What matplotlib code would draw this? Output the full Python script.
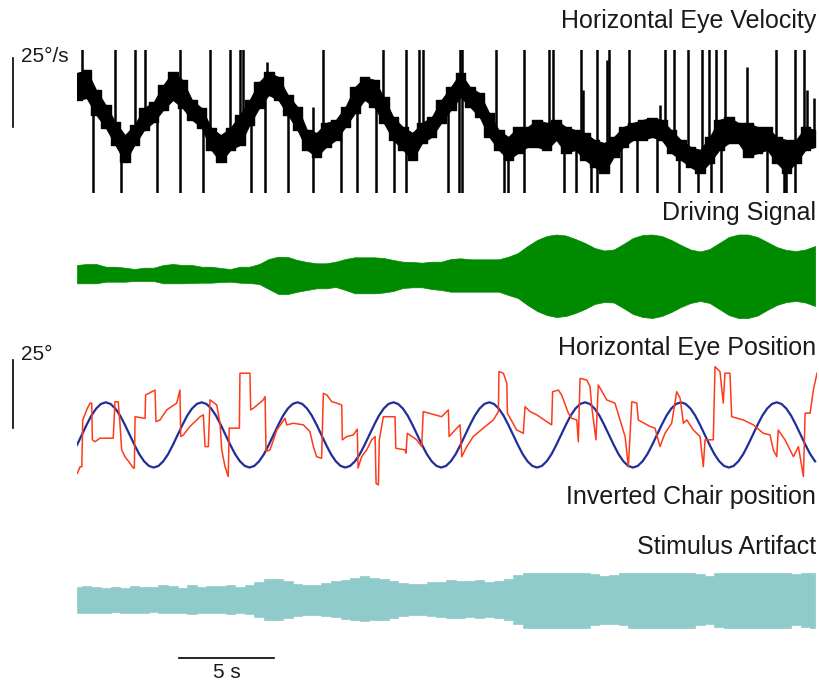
import numpy as np
import matplotlib
matplotlib.use("Agg")
import matplotlib.pyplot as plt

plt.rcParams['font.family'] = ['Liberation Sans', 'DejaVu Sans']

# ---------------------------------------------------------------------------
# Recorded traces (time in s)
# Envelopes sampled every 0.5 s
ENV_DT = 0.5

# Horizontal eye velocity, slow-phase band (deg/s): upper / lower edge
vel_upper = [17.4, 18.5, 11.2, 5.8, -0.4, -5.1, -1.4, 4.7, 6.9, 13.0,
             17.8, 14.9, 7.6, 4.7, -2.5, -5.1, -2.5, 2.2, 7.6, 14.1,
             17.8, 15.9, 9.4, 5.1, -3.3, -4.3, -0.7, 0.4, 5.1, 12.3,
             15.9, 14.9, 8.7, 1.4, -2.2, -4.3, -0.7, 1.4, 7.6, 12.3,
             17.4, 12.3, 10.1, 2.9, -3.3, -5.8, -2.2, -2.2, 0.4, -0.7,
             0.4, -2.2, -3.3, -4.3, -6.9, -8.0, -5.8, -2.2, -0.7, 0.4,
             1.1, 0.4, -3.3, -6.9, -9.4, -10.5, -5.8, 0.4, 1.4, -0.7,
             -0.7, -2.2, -2.2, -5.8, -6.9, -6.9, -2.2, -3.3]
vel_lower = [7.6, 8.3, 2.2, -2.5, -8.7, -14.9, -8.7, -3.3, -0.4, 4.0,
             7.6, 4.7, 0.4, -2.5, -10.5, -14.9, -10.5, -8.7, -1.4, 4.7,
             9.4, 7.6, 2.2, -3.3, -10.5, -13.0, -9.4, -6.9, -2.2, 2.9,
             7.6, 5.1, -0.7, -6.9, -10.5, -14.1, -8.0, -5.8, -0.7, 4.0,
             8.7, 5.1, 1.4, -5.8, -10.5, -14.1, -11.6, -9.4, -9.4, -10.5,
             -6.9, -11.6, -10.5, -14.1, -16.7, -18.8, -13.0, -9.4, -6.9, -6.9,
             -5.8, -6.9, -11.6, -14.1, -16.7, -18.8, -15.2, -10.5, -8.0, -8.0,
             -13.0, -11.6, -10.5, -15.2, -18.8, -15.2, -10.5, -9.4]

# Saccades: onset time (s) and peak velocity (deg/s); +/-40 saturates the display
saccade_t = [0.24, 1.98, 3.02, 3.54, 5.36, 6.93, 7.97, 8.49, 8.66, 12.83,
             15.95, 17.17, 17.86, 18.07, 20.0, 20.09, 21.86, 23.33, 24.64, 24.81,
             26.29, 27.15, 27.76, 28.8, 30.68, 31.15, 31.89, 32.62, 32.97, 33.32,
             33.8, 36.47, 37.45, 37.92,
             9.9, 12.29, 26.37, 27.67, 30.4, 34.96, 38.09, 38.44,
             0.85, 2.28, 4.15, 5.36, 6.58, 9.1, 9.83, 11.0, 12.31, 13.79,
             14.6, 15.61, 16.56, 17.17, 19.34, 19.95, 20.09, 22.29, 22.46, 23.33,
             25.42, 26.03, 26.81, 27.15, 28.37, 29.23, 30.28, 31.41, 32.41, 33.06,
             33.58, 36.0, 36.88, 36.96, 37.45]
saccade_peak = [40] * 34 + [21.4, 5.1, 11.2, 22.1, 5.8, 19.6, 11.2, 8.3] + [-40] * 35

# Driving signal envelope (arb. units)
drive_upper = [1.0, 1.1, 1.1, 0.83, 0.83, 0.73, 0.6, 0.73, 0.73, 1.0,
               1.1, 1.0, 1.0, 0.83, 0.83, 0.7, 0.6, 0.83, 0.83, 1.1,
               1.6, 1.83, 1.8, 1.5, 1.3, 1.17, 1.17, 1.33, 1.6, 1.77,
               1.77, 1.77, 1.7, 1.5, 1.33, 1.3, 1.23, 1.33, 1.33, 1.6,
               1.67, 1.57, 1.57, 1.57, 1.57, 1.83, 2.2, 2.9, 3.5, 3.9,
               4.05, 3.95, 3.6, 3.2, 2.7, 2.45, 2.55, 3.1, 3.7, 4.0,
               4.05, 3.9, 3.5, 3.0, 2.55, 2.35, 2.6, 3.2, 3.8, 4.05,
               4.05, 3.8, 3.3, 2.8, 2.5, 2.4, 2.55, 2.9]
drive_lower = [-0.83, -0.83, -0.83, -0.67, -0.67, -0.67, -0.6, -0.6, -0.6, -0.83,
               -0.83, -0.83, -0.8, -0.77, -0.77, -0.7, -0.67, -0.77, -0.8, -0.9,
               -1.4, -1.9, -1.9, -1.67, -1.5, -1.33, -1.33, -1.2, -1.5, -1.83,
               -1.83, -1.83, -1.75, -1.6, -1.3, -1.23, -1.23, -1.4, -1.5, -1.67,
               -1.67, -1.67, -1.67, -1.67, -1.67, -2.0, -2.3, -3.0, -3.6, -4.0,
               -4.2, -4.1, -3.8, -3.4, -2.9, -2.7, -2.75, -3.3, -3.9, -4.2,
               -4.3, -4.1, -3.7, -3.2, -2.8, -2.6, -2.8, -3.4, -4.0, -4.3,
               -4.3, -4.05, -3.5, -3.0, -2.7, -2.6, -2.75, -3.1]

# Stimulus artifact envelope (arb. units)
art_upper = [1.3, 1.4, 1.3, 1.2, 1.3, 1.2, 1.4, 1.3, 1.3, 1.5,
             1.4, 1.2, 1.5, 1.3, 1.4, 1.4, 1.5, 1.3, 1.5, 1.8,
             2.1, 2.1, 1.9, 1.6, 1.5, 1.5, 1.7, 1.9, 2.0, 2.2,
             2.4, 2.2, 2.1, 1.9, 1.7, 1.6, 1.6, 1.8, 1.8, 2.0,
             1.9, 1.9, 2.0, 1.8, 1.9, 2.1, 2.5, 2.7, 2.7, 2.7,
             2.7, 2.7, 2.7, 2.7, 2.6, 2.4, 2.5, 2.7, 2.7, 2.7,
             2.7, 2.7, 2.7, 2.7, 2.7, 2.6, 2.4, 2.7, 2.7, 2.7,
             2.7, 2.7, 2.7, 2.7, 2.7, 2.6, 2.7, 2.7]
art_lower = [-1.3, -1.3, -1.3, -1.3, -1.2, -1.3, -1.3, -1.3, -1.2, -1.3,
             -1.3, -1.3, -1.4, -1.3, -1.3, -1.3, -1.4, -1.3, -1.4, -1.7,
             -2.0, -2.0, -1.8, -1.6, -1.5, -1.5, -1.6, -1.7, -1.9, -2.0,
             -2.1, -2.0, -2.0, -1.8, -1.6, -1.5, -1.5, -1.6, -1.7, -1.8,
             -1.8, -1.7, -1.8, -1.7, -1.8, -2.0, -2.4, -2.8, -2.8, -2.8,
             -2.8, -2.8, -2.8, -2.8, -2.5, -2.4, -2.4, -2.5, -2.8, -2.8,
             -2.8, -2.8, -2.8, -2.8, -2.8, -2.5, -2.4, -2.7, -2.8, -2.8,
             -2.8, -2.8, -2.8, -2.8, -2.8, -2.5, -2.7, -2.8]

# Horizontal eye position (deg)
eye_t = [0.02, 0.16, 0.25, 0.30, 0.54, 0.68, 0.77, 0.80, 0.94, 1.20,
         1.89, 1.98, 2.15, 2.24, 2.33, 2.50, 2.76, 2.94, 2.99, 3.03,
         3.55, 3.58, 4.07, 4.12, 4.33, 4.68, 5.20, 5.37, 5.41, 5.55,
         5.89, 6.42, 6.59, 6.68, 6.85, 6.94, 7.29, 7.46, 7.55, 7.72,
         7.89, 7.94, 8.47, 8.50, 9.02, 9.06, 9.20, 9.72, 9.81, 9.86,
         10.07, 10.42, 10.85, 10.94, 11.28, 11.81, 12.15, 12.33, 12.50, 12.76,
         12.85, 13.03, 13.29, 13.55, 13.81, 13.84, 14.07, 14.41, 14.62, 14.66,
         14.85, 15.11, 15.37, 15.55, 15.60, 15.72, 15.77, 15.98, 16.59, 16.63,
         17.11, 17.16, 17.23, 17.72, 17.98, 18.06, 19.02, 19.37, 19.41, 19.72,
         19.98, 20.07, 20.33, 20.67, 21.19, 21.72, 21.98, 22.01, 22.24, 22.42,
         22.45, 22.94, 23.28, 23.37, 23.63, 23.98, 24.50, 24.76, 24.81, 25.11,
         25.28, 25.63, 25.81, 26.07, 26.15, 26.24, 26.59, 26.76, 26.85, 27.07,
         27.19, 27.63, 28.06, 28.33, 28.59, 28.76, 28.94, 29.20, 29.28, 29.89,
         30.15, 30.41, 30.67, 31.02, 31.28, 31.46, 31.63, 31.81, 32.15, 32.50,
         32.67, 32.76, 33.19, 33.28, 33.54, 33.71, 33.80, 34.06, 34.15, 34.76,
         35.28, 35.80, 36.15, 36.32, 36.50, 36.58, 36.93, 37.37, 37.63, 37.89,
         37.98, 38.24, 38.41, 38.60]
eye_deg = [-14.1, -11.7, -11.7, 5.5, 9.8, 11.7, 11.7, -1.8, -2.5, -1.2,
           -1.2, 12.2, 12.2, 4.3, -5.5, -8.0, -10.4, -12.2, -12.2, 6.7,
           6.1, 14.7, 16.5, 4.9, 5.5, 9.2, 11.7, 16.5, -0.6, 0.0,
           3.1, 6.7, 7.4, -4.3, -4.3, 12.9, 11.0, 4.3, -5.5, -11.7,
           -15.3, 2.5, 2.5, 22.7, 22.7, 9.2, 9.8, 12.9, 14.1, -6.1,
           -5.5, 1.8, 6.1, 3.7, 4.3, 3.7, 1.2, -4.3, -8.0, -8.6,
           15.3, 14.7, 12.2, 11.7, 11.0, -1.8, -0.6, 0.0, 2.1, -12.2,
           -8.0, -5.5, -1.8, -0.6, -17.8, -18.4, -1.8, 6.7, 6.7, -4.9,
           -5.5, -6.7, 0.6, -1.8, -4.3, 8.6, 6.7, 9.2, -0.6, 1.8,
           3.7, -8.0, -4.3, -0.6, 2.5, 5.5, 8.6, 23.3, 22.7, 19.0,
           8.0, 1.8, 0.6, 10.4, 8.6, 7.4, 4.9, 3.7, 15.9, 16.5,
           14.7, 8.0, 6.1, 5.5, -2.5, 20.8, 20.2, 17.8, 10.4, -1.8,
           18.4, 12.9, 11.7, 5.5, -0.6, -11.7, 12.2, 11.7, 5.5, 3.1,
           2.5, -4.3, 0.6, 4.3, 15.9, 13.5, 4.3, 5.5, 1.8, -0.6,
           -11.7, -1.8, -1.8, 25.1, 23.3, 11.7, 22.7, 22.7, 6.7, 5.5,
           3.7, 0.6, 0.0, -5.5, -8.0, 1.8, -1.8, -8.0, -4.3, -15.3,
           8.0, 8.0, 16.5, 22.7]

# Inverted chair position (deg), sampled every 0.25 s
CHAIR_DT = 0.25
chair_deg = [
    -3.7, 0.0, 3.7, 7.1, 9.7, 11.4, 12.0, 11.4, 9.7, 7.1, 3.7, 0.0, -3.7, -7.1, -9.7, -11.4, -12.0, -11.4, -9.7, -7.1,
    -3.7, 0.0, 3.7, 7.1, 9.7, 11.4, 12.0, 11.4, 9.7, 7.1, 3.7, 0.0, -3.7, -7.1, -9.7, -11.4, -12.0, -11.4, -9.7, -7.1,
    -3.7, 0.0, 3.7, 7.1, 9.7, 11.4, 12.0, 11.4, 9.7, 7.1, 3.7, 0.0, -3.7, -7.1, -9.7, -11.4, -12.0, -11.4, -9.7, -7.1,
    -3.7, 0.0, 3.7, 7.1, 9.7, 11.4, 12.0, 11.4, 9.7, 7.1, 3.7, 0.0, -3.7, -7.1, -9.7, -11.4, -12.0, -11.4, -9.7, -7.1,
    -3.7, 0.0, 3.7, 7.1, 9.7, 11.4, 12.0, 11.4, 9.7, 7.1, 3.7, 0.0, -3.7, -7.1, -9.7, -11.4, -12.0, -11.4, -9.7, -7.1,
    -3.7, 0.0, 3.7, 7.1, 9.7, 11.4, 12.0, 11.4, 9.7, 7.1, 3.7, 0.0, -3.7, -7.1, -9.7, -11.4, -12.0, -11.4, -9.7, -7.1,
    -3.7, 0.0, 3.7, 7.1, 9.7, 11.4, 12.0, 11.4, 9.7, 7.1, 3.7, 0.0, -3.7, -7.1, -9.7, -11.4, -12.0, -11.4, -9.7, -7.1,
    -3.7, 0.0, 3.7, 7.1, 9.7, 11.4, 12.0, 11.4, 9.7, 7.1, 3.7, 0.0, -3.7, -7.1, -9.7,
]

# Calibration bars
VEL_BAR = (-2.2, 22.8)     # 25 deg/s
POS_BAR = (2.5, 27.5)      # 25 deg
TIME_BAR = (5.3, 10.3)     # 5 s

# ---------------------------------------------------------------------------
W, H = 820, 681
fig = plt.figure(figsize=(W / 100, H / 100), dpi=100)
T_END = 38.6
X0, X1 = 77, 817


def panel(top, bottom, ylim):
    ax = fig.add_axes([X0 / W, 1 - bottom / H, (X1 - X0) / W, (bottom - top) / H])
    ax.set_xlim(0, T_END)
    ax.set_ylim(*ylim)
    ax.axis('off')
    return ax


env_t = np.arange(len(vel_upper)) * ENV_DT
chair_t = np.arange(len(chair_deg)) * CHAIR_DT

# Eye velocity: slow-phase band drawn stepwise like the digitised record
ax_v = panel(50, 193, (-26.1, 25.7))
vu = np.array(vel_upper)
vl = np.array(vel_lower)
ax_v.fill_between(env_t, vl, vu, color='black', lw=0.6, edgecolor='black')
ax_v.fill_between(env_t, vl, vu, step='mid', color='black', lw=1.0,
                  edgecolor='black')
base = np.interp(saccade_t, env_t, (vu + vl) / 2)
ax_v.vlines(saccade_t, base, saccade_peak, color='black', lw=1.8)
ax_v.plot([-3.34, -3.34], VEL_BAR, color='black', lw=1.2, clip_on=False)

# Driving signal
ax_d = panel(225, 325, (-5, 5))
ax_d.fill_between(env_t, drive_lower, drive_upper, color='#008a00', lw=0.5,
                  edgecolor='#008a00')

# Eye position and chair position
ax_p = panel(355, 495, (-22.1, 29.4))
ax_p.plot(chair_t, chair_deg, color='#1f2f9a', lw=1.6)
ax_p.plot(eye_t, eye_deg, color='#ff3a1a', lw=1.1)
ax_p.plot([-3.34, -3.34], POS_BAR, color='black', lw=1.2, clip_on=False)

# Stimulus artifact
ax_a = panel(560, 640, (-4, 4))
ax_a.fill_between(env_t, art_lower, art_upper, step='mid', color='#90cbcb',
                  lw=0.5, edgecolor='#90cbcb')
ax_a.plot(TIME_BAR, [-5.8, -5.8], color='black', lw=1.2, clip_on=False)
ax_a.text(sum(TIME_BAR) / 2, -7.3, '5 s', ha='center', va='center',
          fontsize=15, color='#1a1a1a', clip_on=False)

# Labels
label_kw = dict(ha='right', va='center', fontsize=18, color='#1a1a1a')
for txt, y in [('Horizontal Eye Velocity', 21), ('Driving Signal', 213),
               ('Horizontal Eye Position', 348), ('Inverted Chair position', 497),
               ('Stimulus Artifact', 547)]:
    fig.text(816 / W, 1 - y / H, txt, **label_kw)

fig.text(21 / W, 1 - 56 / H, '25°/s', ha='left', va='center', fontsize=15,
         color='#1a1a1a')
fig.text(21 / W, 1 - 354 / H, '25°', ha='left', va='center', fontsize=15,
         color='#1a1a1a')

fig.savefig('out.png', dpi=100)
